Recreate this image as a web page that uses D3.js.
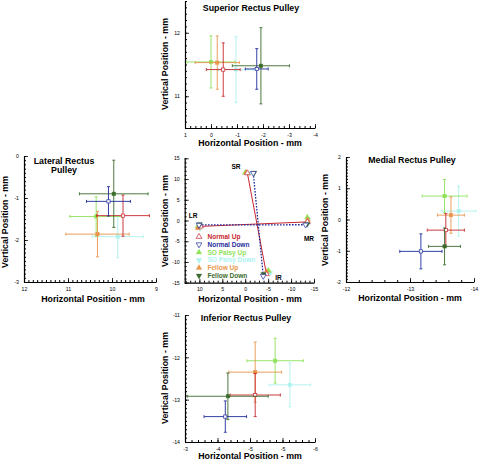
<!DOCTYPE html>
<html><head><meta charset="utf-8">
<script src="https://cdn.jsdelivr.net/npm/d3@7"></script>
<style>
html,body{margin:0;padding:0;background:#fff;}
svg{display:block;font-family:"Liberation Sans",Arial,sans-serif;}
</style></head>
<body><svg id="c" width="480" height="460"></svg>
<script>
// ---- data ----
const series = ["Normal Up","Normal Down","SO Palsy Up","SO Palsy Down","Fellow Up","Fellow Down"];
// Superior rectus pulley: mean horizontal / vertical position and SD
const srX    = [-0.47, -1.76, 0.00, -0.96, -0.24, -1.92];
const srY    = [11.42, 11.43, 11.54, 11.42, 11.53, 11.48];
const srXErr = [0.65, 0.44, 0.93, 0.67, 0.85, 1.10];
const srYErr = [0.42, 0.32, 0.41, 0.52, 0.42, 0.60];
// Lateral rectus pulley
const lrX    = [9.75, 10.08, 10.36, 9.87, 10.33, 9.96];
const lrY    = [-1.42, -1.08, -1.44, -1.92, -1.86, -0.90];
const lrXErr = [0.60, 0.50, 0.60, 0.58, 0.72, 0.78];
const lrYErr = [0.49, 0.35, 0.47, 0.50, 0.54, 0.80];
// Medial rectus pulley
const mrX    = [-13.56, -13.17, -13.54, -13.76, -13.64, -13.54];
const mrY    = [-0.34, -1.02, 0.75, 0.27, 0.14, -0.86];
const mrXErr = [0.29, 0.33, 0.35, 0.27, 0.21, 0.25];
const mrYErr = [0.53, 0.56, 0.53, 0.80, 0.58, 0.59];
// Inferior rectus pulley
const irX    = [-4.62, -3.93, -5.08, -5.42, -4.62, -3.99];
const irY    = [-12.89, -13.40, -12.08, -12.65, -12.35, -12.92];
const irXErr = [0.58, 0.49, 0.65, 0.48, 0.61, 0.93];
const irYErr = [0.51, 0.37, 0.53, 0.52, 0.71, 0.55];
// tick labels
const srXTicks = [1, 0, -1, -2, -3, -4];
const srYTicks = [11, 12];
const lrXTicks = [12, 11, 10, 9];
const lrYTicks = [0, -1, -2, -3];
const mrXTicks = [-12, -13, -14];
const mrYTicks = [2, 1, 0, -1, -2];
const irXTicks = [-3, -3.75, -4.5, -5.25, -6];
const irYTicks = [-11, -12, -13, -14];
const ovXTicks = [10, 5, 0, -5, -10, -15];
const ovYTicks = [15, 10, 5, 0, -5, -10, -15];

// ---- styles ----
const colors = ["#c8262c","#1f2d9c","#8ee35a","#aef2ef","#e8964e","#3b6b2b"];
const FONT = "'Liberation Sans',Arial,sans-serif";
const svg = d3.select("#c");

const fmt = d => String(Math.sign(d) * Math.round(Math.abs(d)));

function axes(g, x, y, xt, xm, yt, ym) {
  const [y0, y1] = y.domain();
  const [x0, x1] = x.domain();
  const xr = x.range(), yr = y.range();
  const minX = d3.range(Math.ceil(Math.min(x0,x1)/xm - 1e-6), Math.floor(Math.max(x0,x1)/xm + 1e-6) + 1).map(k => k*xm);
  const minY = d3.range(Math.ceil(Math.min(y0,y1)/ym - 1e-6), Math.floor(Math.max(y0,y1)/ym + 1e-6) + 1).map(k => k*ym);
  // minor ticks
  g.append("g").attr("transform", `translate(0,${yr[0]})`)
    .call(d3.axisBottom(x).tickValues(minX).tickSize(-2).tickSizeOuter(0).tickFormat(""))
    .call(s => s.select(".domain").remove());
  g.append("g").attr("transform", `translate(${xr[0]},0)`)
    .call(d3.axisLeft(y).tickValues(minY).tickSize(-2).tickSizeOuter(0).tickFormat(""))
    .call(s => s.select(".domain").remove());
  // major ticks
  const gx = g.append("g").attr("transform", `translate(0,${yr[0]})`)
    .call(d3.axisBottom(x).tickValues(xt).tickSize(-4).tickSizeOuter(0).tickPadding(5).tickFormat(fmt));
  const gy = g.append("g").attr("transform", `translate(${xr[0]},0)`)
    .call(d3.axisLeft(y).tickValues(yt).tickSize(-4).tickSizeOuter(0).tickPadding(5).tickFormat(fmt));
  [gx, gy].forEach(a => {
    a.selectAll("text").attr("font-size", 5.2).attr("font-family", FONT).attr("fill", "#000");
    a.selectAll("line").attr("stroke", "#000").attr("stroke-width", 0.8);
    a.select(".domain").attr("stroke", "#000").attr("stroke-width", 1.2);
  });
  g.selectAll("line").attr("stroke", "#000");
}

function labels(g, xl, yl) {
  g.append("text").attr("x", xl[0]).attr("y", xl[1]).attr("text-anchor", "middle")
    .attr("font-size", 8.8).attr("font-weight", "bold").attr("font-family", FONT)
    .text("Horizontal Position - mm");
  g.append("text").attr("transform", `translate(${yl[0]},${yl[1]}) rotate(-90)`).attr("text-anchor", "middle")
    .attr("font-size", 8.8).attr("font-weight", "bold").attr("font-family", FONT)
    .text("Vertical Position - mm");
}

const pulleys = [
  {xs: srX, ys: srY, xe: srXErr, ye: srYErr, xd: [1, -4], yd: [10.5, 12.5], box: [185, 315, 1, 128],
   xt: srXTicks, xm: 0.2, yt: srYTicks, ym: 0.1, title: ["Superior Rectus Pulley"], tpos: [251, 11],
   xl: [250, 146], yl: [168, 64]},
  {xs: lrX, ys: lrY, xe: lrXErr, ye: lrYErr, xd: [12, 9], yd: [-3, 0], box: [24, 156, 156, 282],
   xt: lrXTicks, xm: 0.1, yt: lrYTicks, ym: 0.1, title: ["Lateral Rectus", "Pulley"], tpos: [64, 163.5],
   xl: [93, 302], yl: [8, 222]},
  {xs: mrX, ys: mrY, xe: mrXErr, ye: mrYErr, xd: [-12, -14], yd: [-2, 2], box: [346, 474, 157, 282],
   xt: mrXTicks, xm: 0.2, yt: mrYTicks, ym: 0.1, title: ["Medial Rectus Pulley"], tpos: [412, 162.5],
   xl: [410, 301], yl: [328, 220]},
  {xs: irX, ys: irY, xe: irXErr, ye: irYErr, xd: [-3, -6], yd: [-14, -11], box: [185, 315, 315, 442],
   xt: irXTicks, xm: 0.15, yt: irYTicks, ym: 0.1, title: ["Inferior Rectus Pulley"], tpos: [246, 321],
   xl: [250, 459], yl: [168, 378]}
];

pulleys.forEach(p => {
  const g = svg.append("g");
  const x = d3.scaleLinear().domain(p.xd).range([p.box[0], p.box[1]]);
  const y = d3.scaleLinear().domain(p.yd).range([p.box[3], p.box[2]]);
  axes(g, x, y, p.xt, p.xm, p.yt, p.ym);
  labels(g, p.xl, p.yl);
  p.title.forEach((t, i) => g.append("text").attr("x", p.tpos[0]).attr("y", p.tpos[1] + i * 9.5)
    .attr("text-anchor", "middle").attr("font-size", 8.8).attr("font-weight", "bold")
    .attr("font-family", FONT).text(t));
  const order = [3, 2, 4, 0, 5, 1];
  const cap = 1.5;
  order.forEach(i => {
    const cx = x(p.xs[i]), cy = y(p.ys[i]);
    const xa = x(p.xs[i] - p.xe[i]), xb = x(p.xs[i] + p.xe[i]);
    const ya = y(p.ys[i] - p.ye[i]), yb = y(p.ys[i] + p.ye[i]);
    const eg = g.append("g").attr("stroke", colors[i]).attr("stroke-width", 1).attr("opacity", 0.9);
    eg.append("line").attr("x1", xa).attr("x2", xb).attr("y1", cy).attr("y2", cy);
    eg.append("line").attr("x1", cx).attr("x2", cx).attr("y1", ya).attr("y2", yb);
    [xa, xb].forEach(v => eg.append("line").attr("x1", v).attr("x2", v).attr("y1", cy - cap).attr("y2", cy + cap));
    [ya, yb].forEach(v => eg.append("line").attr("y1", v).attr("y2", v).attr("x1", cx - cap).attr("x2", cx + cap));
    const open = i < 2;
    g.append("rect").attr("x", cx - 1.6).attr("y", cy - 1.6).attr("width", 3.2).attr("height", 3.2)
      .attr("fill", open ? "#fff" : colors[i]).attr("stroke", colors[i]).attr("stroke-width", 0.7);
  });
});

// ---- overview panel ----
{
  const g = svg.append("g");
  const x = d3.scaleLinear().domain([13.2, -15]).range([184.7, 314]);
  const y = d3.scaleLinear().domain([-15, 15]).range([282.7, 158.3]);
  axes(g, x, y, ovXTicks, 1, ovYTicks, 1);
  labels(g, [250, 302], [168, 221]);
  const all = [srX, srY, lrX, lrY, mrX, mrY, irX, irY];
  // connecting lines for normal subjects
  [[0, "none", colors[0]], [1, "1.6,1.4", colors[1]]].forEach(([i, dash, c]) => {
    [[srX, srY, irX, irY], [lrX, lrY, mrX, mrY]].forEach(([ax, ay, bx, by]) => {
      g.append("line").attr("x1", x(ax[i])).attr("y1", y(ay[i])).attr("x2", x(bx[i])).attr("y2", y(by[i]))
        .attr("stroke", c).attr("stroke-width", i ? 1.3 : 1).attr("stroke-dasharray", dash);
    });
  });
  const up = d3.symbol().type(d3.symbolTriangle).size(14);
  const sets = [[srX, srY], [lrX, lrY], [mrX, mrY], [irX, irY]];
  const mk = (sel, i) => sel.attr("d", up())
    .attr("fill", i < 2 ? "#fff" : colors[i]).attr("stroke", colors[i]).attr("stroke-width", i < 2 ? 0.7 : 0.3);
  sets.forEach(([sx, sy]) => {
    [3, 2, 4, 0, 5, 1].forEach(i => {
      mk(g.append("path"), i).attr("transform", `translate(${x(sx[i])},${y(sy[i])}) rotate(${i % 2 ? 180 : 0})`);
    });
  });
  const tl = (t, px, py) => g.append("text").attr("x", px).attr("y", py).attr("text-anchor", "middle")
    .attr("font-size", 6.5).attr("font-weight", "bold").attr("font-family", FONT).text(t);
  tl("SR", 236, 169); tl("LR", 193, 217.5); tl("MR", 309, 241); tl("IR", 278.5, 279.5);
  // legend
  series.forEach((s, i) => {
    const ly = 236.7 + i * 7.8;
    mk(g.append("path"), i).attr("transform", `translate(199,${ly}) rotate(${i % 2 ? 180 : 0})`);
    g.append("text").attr("x", 207.5).attr("y", ly + 2.3).attr("font-size", 6.5).attr("font-weight", "bold")
      .attr("font-family", FONT).attr("fill", colors[i]).text(s);
  });
}
</script></body></html>
